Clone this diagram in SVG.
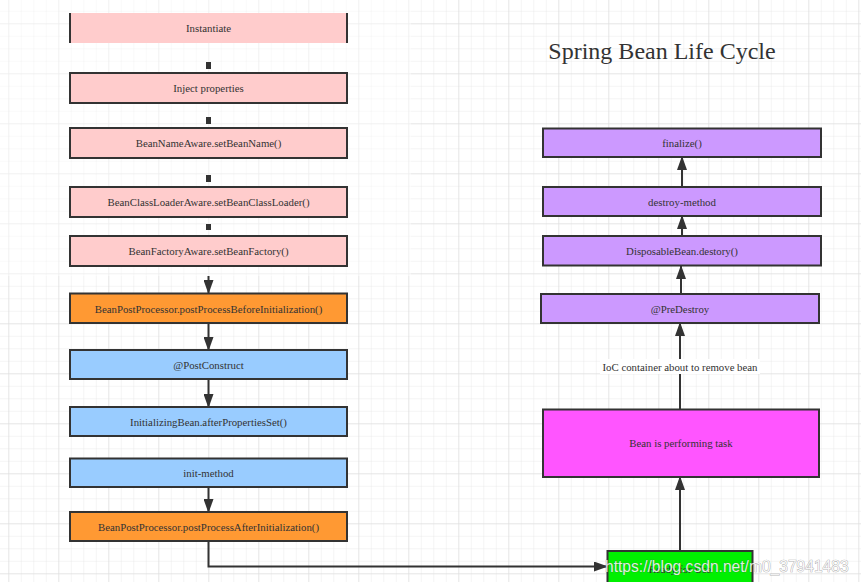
<svg xmlns="http://www.w3.org/2000/svg" width="861" height="582" viewBox="0 0 861 582">
<style>
.bx{stroke:#333;stroke-width:2}
.pink{fill:#FFCCCC}
.orange{fill:#FF9933}
.blue{fill:#99CCFF}
.purple{fill:#CC99FF}
.mag{fill:#FF55FF}
.green{fill:#00F000}
.t{font-family:"Liberation Serif","Times New Roman",serif;font-size:10.8px;fill:#333;text-anchor:middle;dominant-baseline:central}
.c{fill:none;stroke:#333;stroke-width:2}
.px{fill:#333}
</style>
<defs>
<pattern id="minor" width="12.5" height="12.5" patternUnits="userSpaceOnUse" x="8.3" y="10.8">
<path d="M0 0H12.5M0 0V12.5" fill="none" stroke="#e9e9e9" stroke-width="1"/>
</pattern>
<pattern id="major" width="50" height="50" patternUnits="userSpaceOnUse" x="8.3" y="23.3">
<path d="M0 0H50M0 0V50" fill="none" stroke="#dcdcdc" stroke-width="1"/>
</pattern>
<marker id="ah" markerUnits="userSpaceOnUse" markerWidth="14" markerHeight="10" viewBox="0 0 14 10" refX="13" refY="5" orient="auto">
<path d="M0,0L14,5L0,10z" fill="#333"/>
</marker>
</defs>
<rect width="861" height="582" fill="#fff"/>
<rect width="861" height="582" fill="url(#minor)"/>
<rect width="861" height="582" fill="url(#major)"/>
<rect x="0" y="0" width="411" height="276" fill="#fff" fill-opacity="0.45"/>

<text x="662" y="59" font-family="'Liberation Serif','Times New Roman',serif" font-size="24" fill="#333" text-anchor="middle">Spring Bean Life Cycle</text>

<g id="connectors">
<rect class="px" x="206" y="62" width="5" height="7"/>
<rect class="px" x="206" y="117" width="5" height="7"/>
<rect class="px" x="206" y="175" width="5" height="7"/>
<rect class="px" x="206" y="224" width="5" height="6"/>
<path class="c" d="M208.5 276V293" marker-end="url(#ah)"/>
<path class="c" d="M208.5 323V350" marker-end="url(#ah)"/>
<path class="c" d="M208.5 379V407" marker-end="url(#ah)"/>
<path class="c" d="M208.5 487V512" marker-end="url(#ah)"/>
<path class="c" d="M208.5 541V566.5H607" marker-end="url(#ah)"/>
<path class="c" d="M680 551V477" marker-end="url(#ah)"/>
<path class="c" d="M680 409V323" marker-end="url(#ah)"/>
<path class="c" d="M681 294V266" marker-end="url(#ah)"/>
<path class="c" d="M682 236V216" marker-end="url(#ah)"/>
<path class="c" d="M682 187V157" marker-end="url(#ah)"/>
<rect x="600" y="359" width="160" height="15" fill="#fff"/>
<text class="t" x="680" y="366.5">IoC container about to remove bean</text>
</g>

<g id="n-instantiate">
<rect class="pink" x="70" y="13" width="277" height="30"/>
<path d="M70 13V43M347 13V43" stroke="#333" stroke-width="2"/>
<text class="t" x="208.5" y="28">Instantiate</text>
</g>
<g id="n-inject">
<rect class="pink bx" x="70" y="73" width="277" height="30"/>
<text class="t" x="208.5" y="88">Inject properties</text>
</g>
<g id="n-beanname">
<rect class="pink bx" x="70" y="128" width="277" height="30"/>
<text class="t" x="208.5" y="143">BeanNameAware.setBeanName()</text>
</g>
<g id="n-classloader">
<rect class="pink bx" x="70" y="187" width="277" height="30"/>
<text class="t" x="208.5" y="202">BeanClassLoaderAware.setBeanClassLoader()</text>
</g>
<g id="n-beanfactory">
<rect class="pink bx" x="70" y="236" width="277" height="30"/>
<text class="t" x="208.5" y="251">BeanFactoryAware.setBeanFactory()</text>
</g>
<g id="n-bpp-before">
<rect class="orange bx" x="70" y="293.5" width="277" height="29.5"/>
<text class="t" x="208.5" y="308.5">BeanPostProcessor.postProcessBeforeInitialization()</text>
</g>
<g id="n-postconstruct">
<rect class="blue bx" x="70" y="350" width="277" height="29"/>
<text class="t" x="208.5" y="364.5">@PostConstruct</text>
</g>
<g id="n-afterprops">
<rect class="blue bx" x="70" y="407" width="277" height="29"/>
<text class="t" x="208.5" y="421.5">InitializingBean.afterPropertiesSet()</text>
</g>
<g id="n-init">
<rect class="blue bx" x="70" y="458.5" width="277" height="28.5"/>
<text class="t" x="208.5" y="473">init-method</text>
</g>
<g id="n-bpp-after">
<rect class="orange bx" x="70" y="512" width="277" height="29"/>
<text class="t" x="208.5" y="526.5">BeanPostProcessor.postProcessAfterInitialization()</text>
</g>

<g id="n-finalize">
<rect class="purple bx" x="543" y="128.5" width="278" height="28.5"/>
<text class="t" x="682" y="143">finalize()</text>
</g>
<g id="n-destroy-method">
<rect class="purple bx" x="543" y="187" width="278" height="29"/>
<text class="t" x="682" y="201.5">destroy-method</text>
</g>
<g id="n-disposable">
<rect class="purple bx" x="543" y="236" width="278" height="29.5"/>
<text class="t" x="682" y="251">DisposableBean.destory()</text>
</g>
<g id="n-predestroy">
<rect class="purple bx" x="541" y="294" width="278" height="29"/>
<text class="t" x="680" y="308.5">@PreDestroy</text>
</g>
<g id="n-performing">
<rect class="mag bx" x="543" y="409.5" width="276" height="67.5"/>
<text class="t" x="681" y="443">Bean is performing task</text>
</g>
<g id="n-ready">
<rect class="green bx" x="607.5" y="551" width="145" height="40"/>
<text class="t" x="680" y="569">Ready for Use</text>
</g>

<text x="605" y="572" font-family="'Liberation Sans',Arial,sans-serif" font-size="15.6" fill="#ffffff" fill-opacity="0.85" stroke="#555" stroke-opacity="0.6" stroke-width="0.7" paint-order="stroke">https://blog.csdn.net/m0_37941483</text>
</svg>
